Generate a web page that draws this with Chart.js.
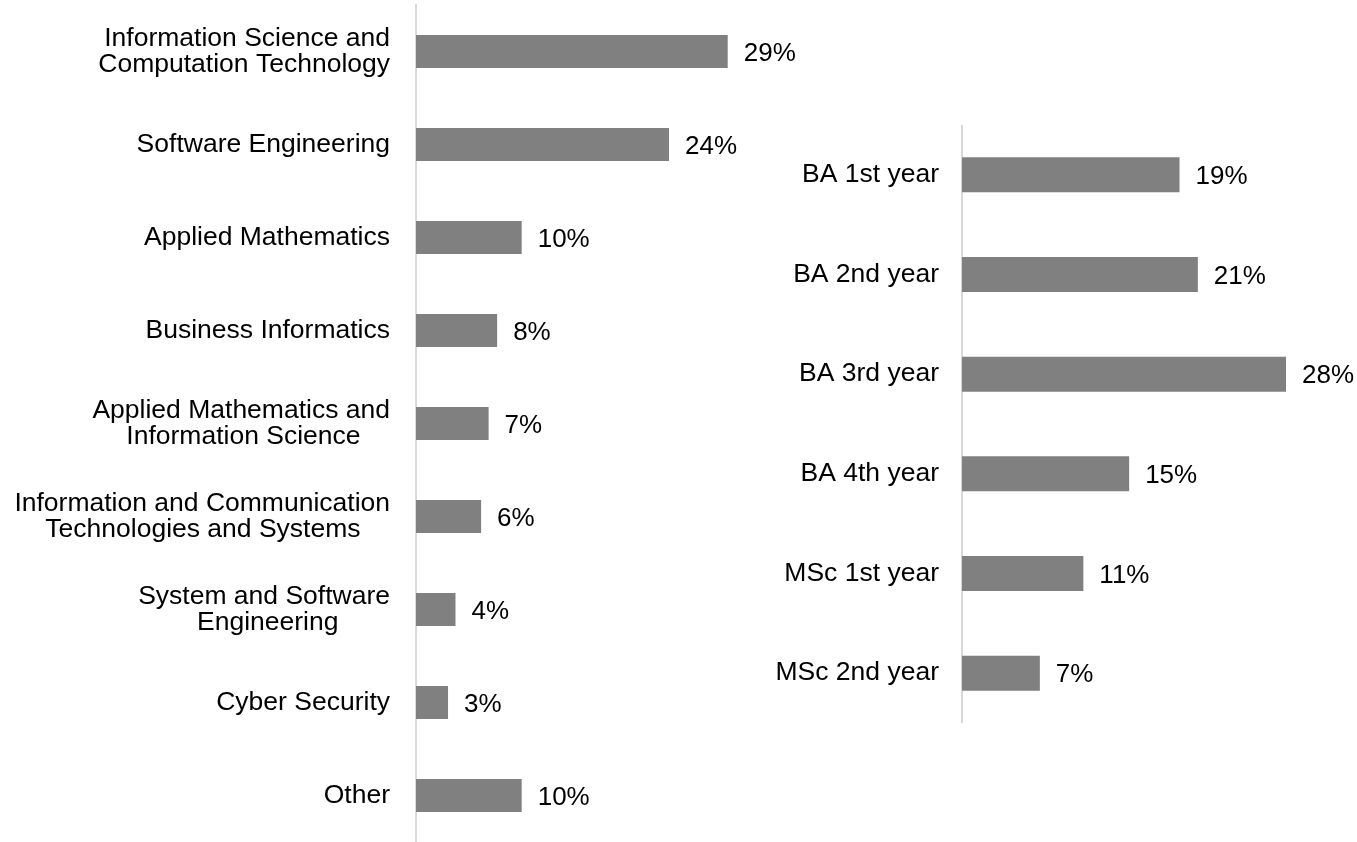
<!DOCTYPE html>
<html>
<head>
<meta charset="utf-8">
<script src="https://cdn.jsdelivr.net/npm/chart.js@4"></script>
<style>
  body { margin: 0; background: #fff; }
  #wrap { position: relative; width: 1357px; height: 842px; }
  canvas { position: absolute; }
  #programs { left: 0; top: 0; }
  #years { left: 700px; top: 125px; }
</style>
</head>
<body>
<div id="wrap">
  <canvas id="programs" width="843" height="842"></canvas>
  <canvas id="years" width="657" height="598"></canvas>
</div>
<script>
// programme split (share of respondents, %)
const programLabels = [
    ["Information Science and", "Computation Technology"],
    "Software Engineering",
    "Applied Mathematics",
    "Business Informatics",
    ["Applied Mathematics and", "Information Science"],
    ["Information and Communication", "Technologies and Systems"],
    ["System and Software", "Engineering"],
    "Cyber Security",
    "Other"
];
const programValues = [29.2, 23.7, 9.9, 7.6, 6.8, 6.1, 3.7, 3.0, 9.9];

// year of study split (%)
const yearLabels = ["BA 1st year", "BA 2nd year", "BA 3rd year", "BA 4th year", "MSc 1st year", "MSc 2nd year"];
const yearValues = [19.0, 20.6, 28.3, 14.6, 10.6, 6.8];

const FONT = '"Liberation Sans", Arial, sans-serif';
const FONT_SIZE = 26.5;
const BAR_COLOR = "#808080";
const AXIS_COLOR = "#d9d9d9";

// measure text so two-line labels get centred on each other
const measureCtx = document.createElement("canvas").getContext("2d");
measureCtx.font = FONT_SIZE + "px " + FONT;
const spaceW = measureCtx.measureText(" ").width;

function centerLines(label) {
    if (!Array.isArray(label)) return label;
    const widths = label.map(l => measureCtx.measureText(l).width);
    const maxW = Math.max(...widths);
    return label.map((l, i) => {
        const n = Math.round((maxW - widths[i]) / 2 / spaceW);
        return l + " ".repeat(n);
    });
}

// draws the "29%" labels at the end of each bar
const valueLabels = {
    id: "valueLabels",
    afterDatasetsDraw(chart) {
        const ctx = chart.ctx;
        const meta = chart.getDatasetMeta(0);
        const values = chart.data.datasets[0].data;
        ctx.save();
        ctx.font = "26px " + FONT;
        ctx.fillStyle = "#000";
        ctx.textAlign = "left";
        ctx.textBaseline = "middle";
        meta.data.forEach((bar, i) => {
            ctx.fillText(Math.round(values[i]) + "%", bar.x + 16, bar.y + 2);
        });
        ctx.restore();
    }
};

function makeChart(id, labels, values, axisWidth, xMax, barPct, tickPad, padTop) {
    return new Chart(document.getElementById(id), {
        type: "bar",
        data: {
            labels: labels,
            datasets: [{
                data: values,
                backgroundColor: BAR_COLOR,
                borderWidth: 0,
                categoryPercentage: 1,
                barPercentage: barPct
            }]
        },
        options: {
            indexAxis: "y",
            responsive: false,
            animation: false,
            layout: { padding: { top: padTop, bottom: 0, left: 0, right: 0 } },
            plugins: {
                legend: { display: false },
                tooltip: { enabled: false }
            },
            scales: {
                x: {
                    display: false,
                    min: 0,
                    max: xMax
                },
                y: {
                    grid: { display: false },
                    border: { display: true, color: AXIS_COLOR, width: 2 },
                    ticks: {
                        autoSkip: false,
                        padding: tickPad,
                        color: "#000",
                        font: { family: FONT, size: FONT_SIZE, lineHeight: 0.97 },
                        callback: function(value) {
                            return centerLines(this.chart.data.labels[value]);
                        }
                    },
                    afterFit: function(scale) {
                        scale.width = axisWidth;
                        // labels may overflow the plot vertically, like the original
                        scale.paddingTop = 0;
                        scale.paddingBottom = 0;
                    }
                }
            }
        },
        plugins: [valueLabels]
    });
}

Chart.defaults.font.family = FONT;

makeChart("programs", programLabels, programValues, 416, 40, 0.355, 18, 5);
makeChart("years", yearLabels, yearValues, 262, 34.5, 0.352, 15, 0);
</script>
</body>
</html>
